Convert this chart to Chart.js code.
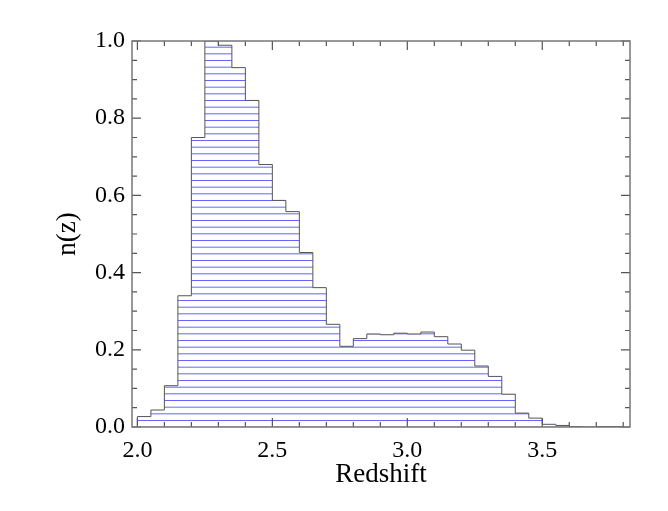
<!DOCTYPE html>
<html>
<head>
<meta charset="utf-8">
<script src="https://cdn.jsdelivr.net/npm/chart.js@4"></script>
<style>
    html, body { margin: 0; padding: 0; background: #fff; }
    #wrap { width: 668px; height: 511px; }
</style>
</head>
<body>
<div id="wrap"><canvas id="nzChart" width="668" height="511"></canvas></div>
<script>
// bin edges (redshift) and normalised n(z) per bin
const binEdges = [2.00, 2.05, 2.10, 2.15, 2.20, 2.25, 2.30, 2.35, 2.40, 2.45,
    2.50, 2.55, 2.60, 2.65, 2.70, 2.75, 2.80, 2.85, 2.90, 2.95,
    3.00, 3.05, 3.10, 3.15, 3.20, 3.25, 3.30, 3.35, 3.40, 3.45,
    3.50, 3.55, 3.60, 3.65, 3.70, 3.75, 3.80];
const nz = [0.027, 0.044, 0.107, 0.340, 0.750, 1.000, 0.989, 0.931, 0.846, 0.680,
    0.587, 0.558, 0.452, 0.361, 0.266, 0.209, 0.229, 0.241, 0.239, 0.243,
    0.241, 0.246, 0.234, 0.215, 0.199, 0.158, 0.131, 0.085, 0.036, 0.023,
    0.007, 0.004, 0.001, 0.000, 0.001, 0.001];

// tick positions
const xMajorTicks = [2.0, 2.5, 3.0, 3.5];
const xMinorTicks = [2.1, 2.2, 2.3, 2.4, 2.6, 2.7, 2.8, 2.9, 3.1, 3.2, 3.3, 3.4, 3.6, 3.7, 3.8];
const yMajorTicks = [0.0, 0.2, 0.4, 0.6, 0.8, 1.0];
const yMinorTicks = [0.05, 0.1, 0.15, 0.25, 0.3, 0.35, 0.45, 0.5, 0.55, 0.65, 0.7, 0.75, 0.85, 0.9, 0.95];

const xRange = [1.98, 3.825];
const yRange = [0.0, 1.0];

document.addEventListener('DOMContentLoaded', function () {
    initChart();
});

/**
 * 橫線填充圖樣
 */
function makeHatch() {
    const c = document.createElement('canvas');
    c.width = 8;
    c.height = 20;
    const g = c.getContext('2d');
    g.fillStyle = 'rgb(100,100,255)';
    g.fillRect(0, 0, 8, 1);
    g.fillRect(0, 6.67, 8, 1);
    g.fillRect(0, 13.33, 8, 1);
    return g.createPattern(c, 'repeat');
}

/**
 * 外框與內向刻度
 */
const boxTicks = {
    id: 'boxTicks',
    afterDatasetsDraw(chart) {
        const { ctx, chartArea: a, scales: { x, y } } = chart;
        ctx.save();
        ctx.strokeStyle = '#555';
        ctx.lineWidth = 1.2;
        ctx.beginPath();
        const tick = (list, len) => {
            list.forEach(v => {
                const px = x.getPixelForValue(v);
                ctx.moveTo(px, a.bottom); ctx.lineTo(px, a.bottom - len);
                ctx.moveTo(px, a.top); ctx.lineTo(px, a.top + len);
            });
        };
        const ytick = (list, len) => {
            list.forEach(v => {
                const py = y.getPixelForValue(v);
                ctx.moveTo(a.left, py); ctx.lineTo(a.left + len, py);
                ctx.moveTo(a.right, py); ctx.lineTo(a.right - len, py);
            });
        };
        tick(xMajorTicks, 9);
        tick(xMinorTicks, 5);
        ytick(yMajorTicks, 9);
        ytick(yMinorTicks, 5);
        ctx.stroke();
        ctx.strokeStyle = '#777';
        ctx.lineWidth = 1.5;
        ctx.strokeRect(a.left, a.top, a.right - a.left, a.bottom - a.top);
        ctx.restore();
    }
};

function initChart() {
    // 階梯線資料點：左緣起點、各 bin 左緣、右緣終點
    const points = [{ x: binEdges[0], y: 0 }];
    nz.forEach((v, i) => points.push({ x: binEdges[i], y: v }));
    points.push({ x: binEdges[binEdges.length - 1], y: 0 });

    const ctx = document.getElementById('nzChart').getContext('2d');
    new Chart(ctx, {
        type: 'line',
        data: {
            datasets: [{
                data: points,
                stepped: 'before',
                borderColor: '#555',
                borderWidth: 1,
                backgroundColor: makeHatch(),
                fill: 'origin',
                pointRadius: 0,
                tension: 0
            }]
        },
        options: {
            responsive: false,
            animation: false,
            layout: {
                padding: { top: 41, right: 38, left: 0, bottom: 0 }
            },
            plugins: {
                legend: { display: false },
                tooltip: { enabled: false }
            },
            scales: {
                x: {
                    type: 'linear',
                    min: xRange[0],
                    max: xRange[1],
                    grid: { display: false, drawTicks: false },
                    border: { display: false },
                    afterBuildTicks: s => { s.ticks = xMajorTicks.map(v => ({ value: v })); },
                    afterFit: s => { s.height = 84; },
                    ticks: {
                        padding: 9,
                        color: '#000',
                        font: { family: 'Liberation Serif', size: 24 },
                        callback: v => v.toFixed(1)
                    },
                    title: {
                        display: true,
                        text: 'Redshift',
                        color: '#000',
                        font: { family: 'Liberation Serif', size: 27 },
                        padding: { top: 0, bottom: 20 }
                    }
                },
                y: {
                    min: yRange[0],
                    max: yRange[1],
                    grid: { display: false, drawTicks: false },
                    border: { display: false },
                    afterBuildTicks: s => { s.ticks = yMajorTicks.map(v => ({ value: v })); },
                    afterFit: s => { s.width = 132; },
                    ticks: {
                        padding: 7,
                        color: '#000',
                        font: { family: 'Liberation Serif', size: 24 },
                        callback: v => v.toFixed(1)
                    },
                    title: {
                        display: true,
                        text: 'n(z)',
                        color: '#000',
                        font: { family: 'Liberation Serif', size: 27 },
                        padding: { top: 52, bottom: 0 }
                    }
                }
            }
        },
        plugins: [boxTicks]
    });
}
</script>
</body>
</html>
